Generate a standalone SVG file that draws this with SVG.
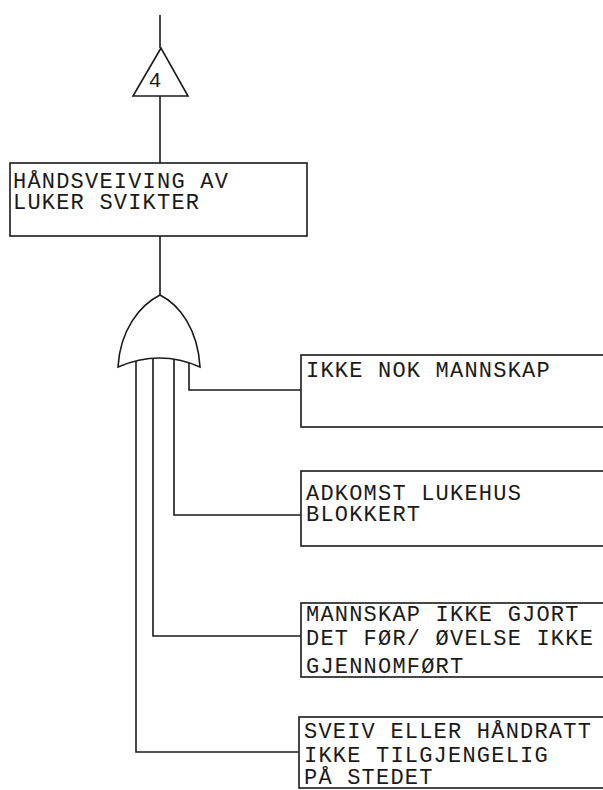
<svg xmlns="http://www.w3.org/2000/svg" width="603" height="790" viewBox="0 0 603 790">
<style>
.s{fill:none;stroke:#1a1a1a;stroke-width:1.6}
.b{fill:#fff;stroke:#1a1a1a;stroke-width:1.6}
.t{font-family:"Liberation Mono","DejaVu Sans Mono",monospace;font-size:22px;letter-spacing:1.2px;fill:#1a1a1a}
</style>
<rect width="603" height="790" fill="#fff"/>
<g id="connectors" class="s">
<path d="M160,15 V48"/>
<path d="M160,96 V163"/>
<path d="M160,236 V295"/>
<path d="M189,363 V390 H301"/>
<path d="M174,359 V515 H301"/>
<path d="M153,358 V636 H301"/>
<path d="M136,361 V752 H301"/>
</g>
<g id="transfer4">
<path class="b" d="M161,48 L133,96 L188,96 Z"/>
<text x="155" y="87" text-anchor="middle" style="font-family:'Liberation Sans',sans-serif;font-size:21px;fill:#1a1a1a">4</text>
</g>
<g id="top">
<rect class="b" x="10" y="163" width="297" height="73"/>
<text class="t" x="13" y="188">HÅNDSVEIVING AV</text>
<text class="t" x="13" y="209">LUKER SVIKTER</text>
</g>
<g id="orgate">
<path class="b" d="M118,367 C120,330 140,305 160,295 C180,305 198,330 200,367 Q160,349 118,367 Z"/>
</g>
<g id="e1">
<rect class="b" x="301" y="355" width="310" height="72"/>
<text class="t" x="306" y="377">IKKE NOK MANNSKAP</text>
</g>
<g id="e2">
<rect class="b" x="301" y="471" width="310" height="75"/>
<text class="t" x="306" y="500">ADKOMST LUKEHUS</text>
<text class="t" x="306" y="521">BLOKKERT</text>
</g>
<g id="e3">
<rect class="b" x="301" y="603" width="310" height="74"/>
<text class="t" x="306" y="621">MANNSKAP IKKE GJORT</text>
<text class="t" x="306" y="645">DET FØR/ ØVELSE IKKE</text>
<text class="t" x="306" y="673">GJENNOMFØRT</text>
</g>
<g id="e4">
<rect class="b" x="299" y="717" width="312" height="71"/>
<text class="t" x="304" y="738">SVEIV ELLER HÅNDRATT</text>
<text class="t" x="304" y="762">IKKE TILGJENGELIG</text>
<text class="t" x="304" y="784">PÅ STEDET</text>
</g>
</svg>
